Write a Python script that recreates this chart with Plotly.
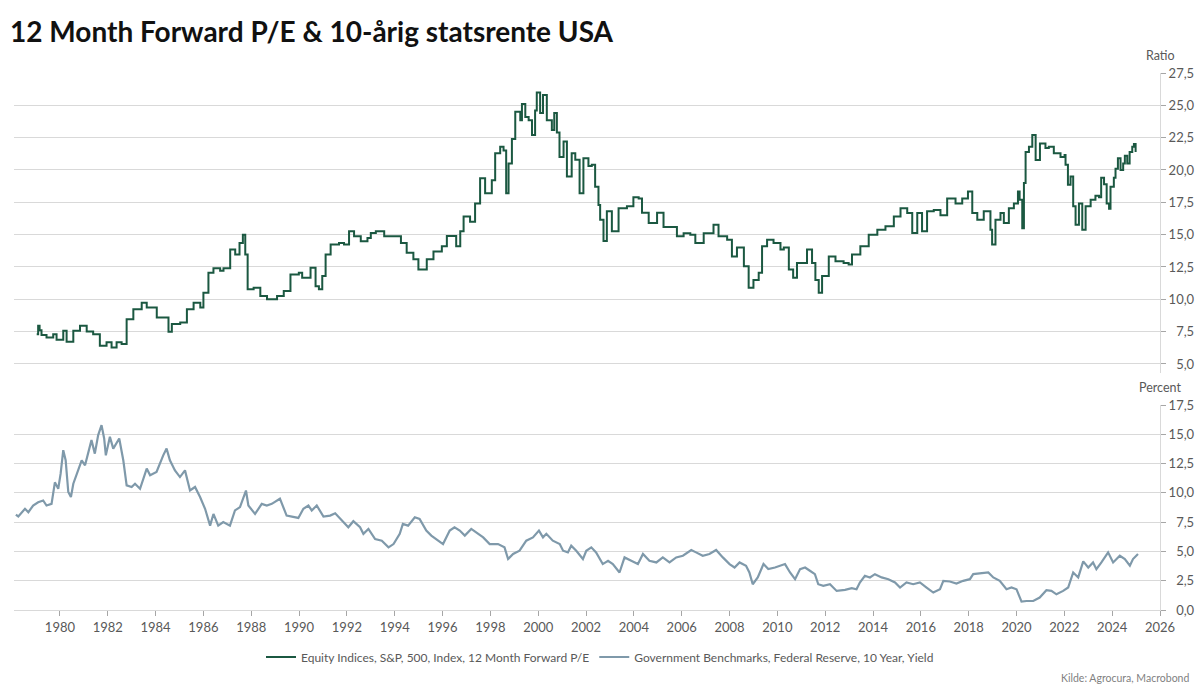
import plotly.graph_objects as go

# ---------------- data ----------------
pe_years = [1979.03, 1979.09, 1979.15, 1979.23, 1979.44, 1979.72, 1979.86, 1980.14, 1980.28, 1980.56,
            1980.84, 1981.12, 1981.39, 1981.67, 1981.95, 1982.16, 1982.37, 1982.58, 1982.79, 1983.07,
            1983.42, 1983.63, 1984.05, 1984.54, 1984.68, 1985.03, 1985.31, 1985.59, 1985.87, 1986.0,
            1986.21, 1986.42, 1986.7, 1986.84, 1987.12, 1987.33, 1987.51, 1987.65, 1987.75, 1987.85,
            1988.1, 1988.38, 1988.66, 1989.08, 1989.36, 1989.64, 1989.99, 1990.13, 1990.48, 1990.69,
            1990.83, 1990.97, 1991.11, 1991.32, 1991.67, 1991.88, 1992.09, 1992.3, 1992.58, 1992.86,
            1993.0, 1993.21, 1993.56, 1994.05, 1994.26, 1994.5, 1994.78, 1994.99, 1995.34, 1995.62,
            1995.97, 1996.18, 1996.46, 1996.57, 1996.74, 1996.88, 1997.15, 1997.36, 1997.57, 1997.78,
            1998.06, 1998.2, 1998.41, 1998.55, 1998.66, 1998.76, 1998.9, 1999.04, 1999.25, 1999.32,
            1999.46, 1999.6, 1999.74, 1999.87, 1999.94, 2000.08, 2000.2, 2000.36, 2000.57, 2000.67,
            2000.78, 2000.89, 2001.06, 2001.2, 2001.4, 2001.55, 2001.73, 2001.89, 2002.1, 2002.24,
            2002.38, 2002.52, 2002.59, 2002.73, 2002.87, 2003.08, 2003.36, 2003.71, 2003.98, 2004.2,
            2004.34, 2004.62, 2004.97, 2005.24, 2005.52, 2005.8, 2006.08, 2006.36, 2006.57, 2006.92,
            2007.33, 2007.54, 2007.9, 2008.1, 2008.31, 2008.6, 2008.8, 2009.0, 2009.22, 2009.36,
            2009.57, 2009.84, 2010.13, 2010.27, 2010.48, 2010.66, 2010.82, 2011.24, 2011.45, 2011.59,
            2011.73, 2011.87, 2012.15, 2012.43, 2012.77, 2012.98, 2013.12, 2013.47, 2013.82, 2014.18,
            2014.52, 2014.87, 2015.15, 2015.43, 2015.64, 2015.85, 2016.05, 2016.26, 2016.54, 2016.82,
            2017.1, 2017.45, 2017.73, 2017.97, 2018.15, 2018.36, 2018.63, 2018.91, 2018.98, 2019.12,
            2019.33, 2019.47, 2019.68, 2019.89, 2020.06, 2020.13, 2020.24, 2020.31, 2020.38, 2020.52,
            2020.66, 2020.8, 2020.98, 2021.21, 2021.35, 2021.56, 2021.84, 2022.01, 2022.05, 2022.15,
            2022.26, 2022.37, 2022.47, 2022.61, 2022.75, 2022.89, 2023.1, 2023.3, 2023.45, 2023.54,
            2023.66, 2023.77, 2023.87, 2023.93, 2024.07, 2024.14, 2024.24, 2024.35, 2024.46, 2024.53,
            2024.63, 2024.73, 2024.84, 2024.91, 2024.98]
pe_values = [7.3, 7.95, 7.6, 7.23, 7.05, 7.3, 6.87, 7.56, 6.72, 7.56,
             7.95, 7.5, 7.3, 6.4, 6.67, 6.28, 6.67, 6.54, 8.46, 9.23,
             9.74, 9.36, 8.59, 7.49, 8.08, 8.2, 9.23, 9.74, 9.36, 10.5,
             12.05, 12.4, 12.2, 12.4, 13.85, 13.46, 14.36, 15.0, 13.46, 10.77,
             10.9, 10.26, 10.0, 10.26, 10.64, 11.92, 12.05, 11.67, 12.44, 11.0,
             10.77, 11.8, 13.46, 14.23, 14.36, 14.23, 15.26, 14.87, 14.49, 14.74,
             15.13, 15.26, 14.87, 14.87, 14.36, 13.6, 13.1, 12.3, 13.1, 13.7,
             14.1, 14.9, 14.9, 14.1, 15.26, 16.4, 16.0, 17.4, 19.36, 18.2,
             19.2, 21.3, 21.8, 21.5, 18.2, 20.5, 22.4, 24.5, 23.85, 25.1,
             24.1, 23.85, 22.7, 24.6, 26.0, 24.4, 25.8, 23.85, 23.1, 24.4,
             22.9, 21.0, 22.2, 19.5, 21.3, 20.8, 18.2, 20.9, 20.3, 20.4,
             18.7, 17.3, 16.15, 14.5, 16.8, 15.26, 17.05, 17.2, 17.9, 17.8,
             16.7, 15.9, 16.7, 15.6, 15.6, 14.87, 15.1, 15.0, 14.36, 15.1,
             15.77, 14.87, 14.6, 13.3, 14.0, 12.56, 10.9, 11.5, 12.05, 14.1,
             14.6, 14.36, 13.85, 14.0, 12.3, 11.67, 12.8, 13.85, 12.8, 11.5,
             10.5, 11.8, 13.3, 12.95, 12.8, 12.7, 13.46, 14.1, 15.0, 15.38,
             15.64, 16.4, 17.05, 16.67, 15.13, 16.67, 15.26, 16.8, 16.9, 16.5,
             17.8, 17.4, 17.8, 18.33, 16.67, 16.15, 16.8, 15.38, 14.23, 16.15,
             16.67, 15.9, 17.05, 17.4, 18.33, 17.7, 15.5, 19.0, 21.4, 21.8,
             22.7, 20.77, 22.05, 21.7, 21.8, 21.3, 21.0, 21.15, 20.4, 18.85,
             19.5, 17.2, 15.77, 17.4, 15.38, 17.2, 17.7, 18.0, 17.9, 19.4,
             18.9, 17.4, 17.0, 18.7, 19.4, 20.1, 20.9, 20.0, 20.5, 21.1,
             20.5, 21.4, 21.8, 22.0, 21.4]

yield_years = [1978.16, 1978.26, 1978.54, 1978.68, 1978.88, 1979.09, 1979.3, 1979.44, 1979.65, 1979.79,
               1979.93, 1980.03, 1980.14, 1980.24, 1980.35, 1980.46, 1980.56, 1980.73, 1980.91, 1981.05,
               1981.19, 1981.32, 1981.46, 1981.6, 1981.74, 1981.85, 1981.92, 1982.09, 1982.23, 1982.37,
               1982.48, 1982.65, 1982.79, 1983.0, 1983.14, 1983.35, 1983.63, 1983.77, 1984.04, 1984.32,
               1984.46, 1984.6, 1984.81, 1985.02, 1985.23, 1985.44, 1985.65, 1985.86, 1986.07, 1986.28,
               1986.42, 1986.62, 1986.83, 1987.11, 1987.32, 1987.53, 1987.78, 1987.88, 1988.16, 1988.44,
               1988.65, 1988.86, 1989.2, 1989.48, 1989.76, 1989.97, 1990.18, 1990.39, 1990.53, 1990.74,
               1991.02, 1991.3, 1991.51, 1991.79, 1992.06, 1992.27, 1992.55, 1992.69, 1992.9, 1993.18,
               1993.46, 1993.74, 1993.95, 1994.21, 1994.34, 1994.56, 1994.84, 1995.04, 1995.32, 1995.53,
               1995.74, 1996.02, 1996.3, 1996.5, 1996.72, 1996.93, 1997.2, 1997.41, 1997.7, 1997.97,
               1998.32, 1998.59, 1998.74, 1998.95, 1999.22, 1999.5, 1999.78, 2000.03, 2000.2, 2000.34,
               2000.61, 2000.9, 2001.04, 2001.24, 2001.38, 2001.59, 2001.87, 2002.01, 2002.22, 2002.42,
               2002.7, 2002.92, 2003.12, 2003.4, 2003.61, 2003.89, 2004.17, 2004.38, 2004.65, 2004.94,
               2005.21, 2005.49, 2005.77, 2006.05, 2006.4, 2006.6, 2006.88, 2007.16, 2007.44, 2007.72,
               2008.0, 2008.21, 2008.42, 2008.69, 2008.83, 2008.97, 2009.18, 2009.42, 2009.62, 2009.9,
               2010.11, 2010.32, 2010.53, 2010.74, 2010.95, 2011.16, 2011.36, 2011.57, 2011.71, 2011.92,
               2012.2, 2012.48, 2012.83, 2013.11, 2013.31, 2013.45, 2013.66, 2013.87, 2014.08, 2014.36,
               2014.64, 2014.92, 2015.13, 2015.4, 2015.68, 2015.96, 2016.24, 2016.52, 2016.8, 2016.94,
               2017.21, 2017.49, 2017.77, 2018.05, 2018.19, 2018.47, 2018.82, 2019.03, 2019.3, 2019.58,
               2019.79, 2020.0, 2020.14, 2020.21, 2020.42, 2020.7, 2020.97, 2021.25, 2021.46, 2021.67,
               2021.95, 2022.16, 2022.37, 2022.58, 2022.79, 2023.0, 2023.2, 2023.34, 2023.55, 2023.83,
               2024.04, 2024.32, 2024.53, 2024.74, 2024.87, 2025.08]
yield_values = [8.15, 7.98, 8.64, 8.35, 8.92, 9.2, 9.35, 8.92, 9.06, 10.9,
                10.35, 11.64, 13.64, 12.78, 10.07, 9.64, 10.78, 11.78, 12.78, 12.35,
                13.5, 14.5, 13.35, 14.93, 15.78, 14.64, 13.2, 14.78, 13.78, 14.2,
                14.64, 12.78, 10.64, 10.5, 10.78, 10.35, 12.07, 11.5, 11.78, 13.2,
                13.78, 12.78, 11.92, 11.35, 11.92, 10.2, 10.5, 9.64, 8.64, 7.2,
                8.2, 7.2, 7.5, 7.2, 8.5, 8.78, 10.2, 8.92, 8.2, 9.06,
                8.92, 9.06, 9.5, 8.06, 7.92, 7.86, 8.64, 8.92, 8.5, 8.92,
                7.98, 8.06, 8.26, 7.64, 7.06, 7.58, 7.06, 6.5, 6.92, 6.06,
                5.92, 5.35, 5.63, 6.5, 7.35, 7.2, 7.92, 7.78, 6.78, 6.35,
                6.06, 5.63, 6.78, 7.06, 6.78, 6.35, 6.92, 6.63, 6.2, 5.63,
                5.63, 5.35, 4.35, 4.78, 5.06, 5.92, 6.2, 6.78, 6.2, 6.5,
                5.92, 5.63, 5.06, 4.92, 5.49, 5.06, 4.35, 5.06, 5.35, 4.92,
                3.92, 4.2, 3.92, 3.2, 4.49, 4.2, 3.92, 4.78, 4.2, 4.06,
                4.49, 4.06, 4.49, 4.63, 5.12, 4.92, 4.63, 4.78, 5.12, 4.49,
                3.92, 3.63, 4.06, 3.78, 3.2, 2.2, 2.78, 3.92, 3.49, 3.63,
                3.78, 3.92, 3.2, 2.63, 3.49, 3.63, 3.35, 3.06, 2.2, 2.06,
                2.2, 1.63, 1.72, 1.86, 1.77, 2.35, 2.92, 2.78, 3.06, 2.78,
                2.63, 2.35, 1.92, 2.35, 2.2, 2.35, 1.92, 1.49, 1.77, 2.49,
                2.43, 2.26, 2.49, 2.63, 3.06, 3.12, 3.2, 2.78, 2.49, 1.77,
                1.92, 1.77, 1.06, 0.72, 0.77, 0.77, 1.06, 1.69, 1.63, 1.34,
                1.63, 1.92, 3.2, 2.78, 4.15, 3.63, 4.06, 3.49, 4.06, 4.92,
                4.06, 4.63, 4.35, 3.78, 4.35, 4.78]

pe_name = "Equity Indices, S&P, 500, Index, 12 Month Forward P/E"
yield_name = "Government Benchmarks, Federal Reserve, 10 Year, Yield"
title_text = "<b>12 Month Forward P/E & 10-årig statsrente USA</b>"
source_text = "Kilde: Agrocura, Macrobond"

x_ticks = list(range(1980, 2027, 2))
pe_ticks = [5.0, 7.5, 10.0, 12.5, 15.0, 17.5, 20.0, 22.5, 25.0, 27.5]
yield_ticks = [0.0, 2.5, 5.0, 7.5, 10.0, 12.5, 15.0, 17.5]

# ---------------- styling ----------------
W, H = 1200, 688
FONT = "Lato"
PE_COLOR = "#1b5841"
YIELD_COLOR = "#7f99aa"
GRID = "#d9d9d9"
TICKCOL = "#595959"


def fmt(v):
    s = f"{v:.1f}".replace(".", ",")
    return ("\u2007" + s) if v < 10 else s


def py(pix):
    return 1 - pix / H


fig = go.Figure()
fig.add_trace(go.Scatter(x=pe_years, y=pe_values, name=pe_name, mode="lines",
                         line=dict(color=PE_COLOR, width=2, shape="hv"),
                         xaxis="x", yaxis="y"))
fig.add_trace(go.Scatter(x=yield_years, y=yield_values, name=yield_name, mode="lines",
                         line=dict(color=YIELD_COLOR, width=2.2),
                         xaxis="x", yaxis="y2"))

axis_common = dict(side="right", anchor="x", showgrid=True, gridcolor=GRID, gridwidth=1,
                   showline=True, linecolor=GRID, linewidth=1, ticks="outside", ticklen=5,
                   tickcolor="#a6a6a6", tickfont=dict(family=FONT, size=13, color=TICKCOL),
                   zeroline=False, tickmode="array", automargin=False)

fig.update_layout(
    width=W, height=H,
    autosize=False,
    paper_bgcolor="white", plot_bgcolor="white",
    margin=dict(l=0, r=0, t=0, b=0, pad=0, autoexpand=False),
    showlegend=True,
    font=dict(family=FONT, color=TICKCOL),
    xaxis=dict(domain=[14 / W, 1160 / W], range=[1978.08, 2026], anchor="y2",
               tickmode="array", tickvals=x_ticks, ticktext=[str(t) for t in x_ticks],
               showgrid=False, zeroline=False, showline=True, linecolor=GRID, linewidth=1,
               ticks="outside", ticklen=5, tickcolor="#a6a6a6", automargin=False,
               tickfont=dict(family=FONT, size=13, color=TICKCOL)),
    yaxis=dict(domain=[py(373), py(73)], range=[4.3, 27.5],
               tickvals=pe_ticks, ticktext=[fmt(v) for v in pe_ticks], **axis_common),
    yaxis2=dict(domain=[py(610), py(405)], range=[0, 17.5],
                tickvals=yield_ticks, ticktext=[fmt(v) for v in yield_ticks], **axis_common),
    legend=dict(orientation="h", x=0.5, xanchor="center", y=py(657), yanchor="middle",
                font=dict(family=FONT, size=12, color=TICKCOL), itemwidth=30,
                bgcolor="rgba(0,0,0,0)", tracegroupgap=0),
    annotations=[
        dict(text=title_text, x=8 / W, y=py(31), xref="paper", yref="paper",
             xanchor="left", yanchor="middle", showarrow=False,
             font=dict(family=FONT, size=28, color="#111111")),
        dict(text="Ratio", x=1160 / W, y=py(55), xref="paper", yref="paper",
             xanchor="center", yanchor="middle", showarrow=False,
             font=dict(family=FONT, size=12.5, color=TICKCOL)),
        dict(text="Percent", x=1160 / W, y=py(387), xref="paper", yref="paper",
             xanchor="center", yanchor="middle", showarrow=False,
             font=dict(family=FONT, size=12.5, color=TICKCOL)),
        dict(text=source_text, x=1191 / W, y=py(678), xref="paper", yref="paper",
             xanchor="right", yanchor="middle", showarrow=False,
             font=dict(family=FONT, size=10.5, color="#7f7f7f")),
    ],
)

fig.write_html(
    "out.html",
    config={"displayModeBar": False},
    post_script="document.body.style.margin='0';document.body.style.overflow='hidden';",
)
